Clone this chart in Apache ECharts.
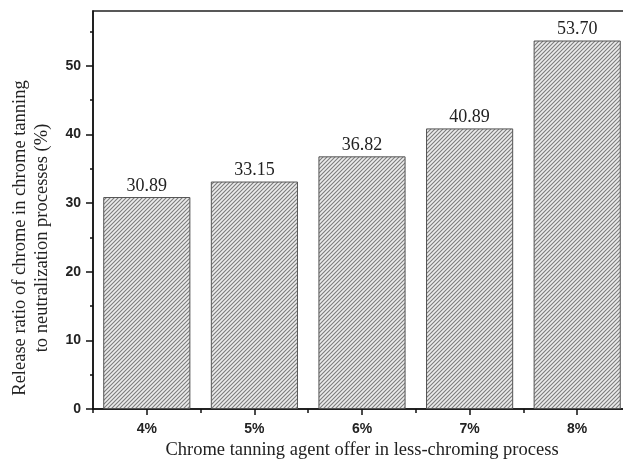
<!DOCTYPE html>
<html>
<head>
<meta charset="utf-8">
<script src="https://cdn.jsdelivr.net/npm/echarts@6/dist/echarts.min.js"></script>
<style>html,body{margin:0;padding:0;background:#fff;}#c{width:623px;height:459px;}</style>
</head>
<body>
<div id="c"></div>
<script>
const categories = ['4%', '5%', '6%', '7%', '8%'];
const releaseRatio = [30.89, 33.15, 36.82, 40.89, 53.70];
const yMajorTicks = [0, 10, 20, 30, 40, 50];
const yMinorTicks = [5, 15, 25, 35, 45, 55];
const yMax = 58;
const xTitle = 'Chrome tanning agent offer in less-chroming process';
const yTitle = 'Release ratio of chrome in chrome tanning\nto neutralization processes (%)';

function makeHatch() {
  const c = document.createElement('canvas');
  c.width = 4; c.height = 4;
  const g = c.getContext('2d');
  g.fillStyle = '#ececec';
  g.fillRect(0, 0, 4, 4);
  g.strokeStyle = '#7c7c7c';
  g.lineWidth = 1.1;
  g.beginPath();
  g.moveTo(-1, 5); g.lineTo(5, -1);
  g.moveTo(-1, 1); g.lineTo(1, -1);
  g.moveTo(3, 5); g.lineTo(5, 3);
  g.stroke();
  return c;
}

const chart = echarts.init(document.getElementById('c'), null, {renderer: 'canvas'});
const serif = 'Liberation Serif';
const sans = 'Liberation Sans';

chart.setOption({
  animation: false,
  backgroundColor: '#ffffff',
  grid: {
    left: 93, right: -8, top: 11, bottom: 50,
    containLabel: false,
    outerBoundsMode: 'none',
    show: true, borderColor: '#222', borderWidth: 1.5, backgroundColor: 'transparent'
  },
  xAxis: [{
    type: 'category',
    data: categories,
    position: 'bottom',
    boundaryGap: true,
    axisLine: {show: true, lineStyle: {color: '#111', width: 1.5}},
    axisTick: {show: true, alignWithLabel: true, length: 6, lineStyle: {color: '#111', width: 1.5}},
    axisLabel: {show: true, margin: 13, color: '#222', fontFamily: sans, fontWeight: 'bold', fontSize: 14},
    splitLine: {show: false},
    name: xTitle,
    nameLocation: 'middle',
    nameGap: 32,
    nameTextStyle: {fontFamily: serif, fontSize: 18.5, color: '#222'}
  }, {
    type: 'category',
    data: categories,
    position: 'bottom',
    boundaryGap: true,
    axisLine: {show: false},
    axisTick: {show: true, alignWithLabel: false, interval: 0, length: 4, lineStyle: {color: '#111', width: 1.5}},
    axisLabel: {show: false},
    splitLine: {show: false}
  }],
  yAxis: [{
    type: 'value',
    position: 'left',
    min: 0, max: yMax,
    axisLine: {show: true, lineStyle: {color: '#111', width: 1.5}},
    axisTick: {show: true, length: 7, customValues: yMajorTicks, lineStyle: {color: '#111', width: 1.5}},
    axisLabel: {show: true, margin: 12, customValues: yMajorTicks, color: '#222', fontFamily: sans, fontWeight: 'bold', fontSize: 14},
    splitLine: {show: false}
  }, {
    type: 'value',
    position: 'left',
    min: 0, max: yMax,
    axisLine: {show: false},
    axisTick: {show: true, length: 3, customValues: yMinorTicks, lineStyle: {color: '#111', width: 1.5}},
    axisLabel: {show: false},
    splitLine: {show: false}
  }],
  graphic: [{
    type: 'text',
    x: 31, y: 238,
    rotation: Math.PI / 2,
    silent: true,
    style: {
      text: yTitle,
      fill: '#222',
      fontFamily: serif,
      fontSize: 18.5,
      lineHeight: 22,
      align: 'center',
      verticalAlign: 'middle'
    }
  }],
  series: [{
    type: 'bar',
    xAxisIndex: 0,
    yAxisIndex: 0,
    data: releaseRatio,
    barWidth: '81%',
    itemStyle: {
      color: {image: makeHatch(), repeat: 'repeat'},
      borderColor: '#555',
      borderWidth: 1
    },
    label: {
      show: true,
      position: 'top',
      distance: 2,
      color: '#222',
      fontFamily: serif,
      fontSize: 18,
      formatter: p => p.value.toFixed(2)
    }
  }]
});
</script>
</body>
</html>
